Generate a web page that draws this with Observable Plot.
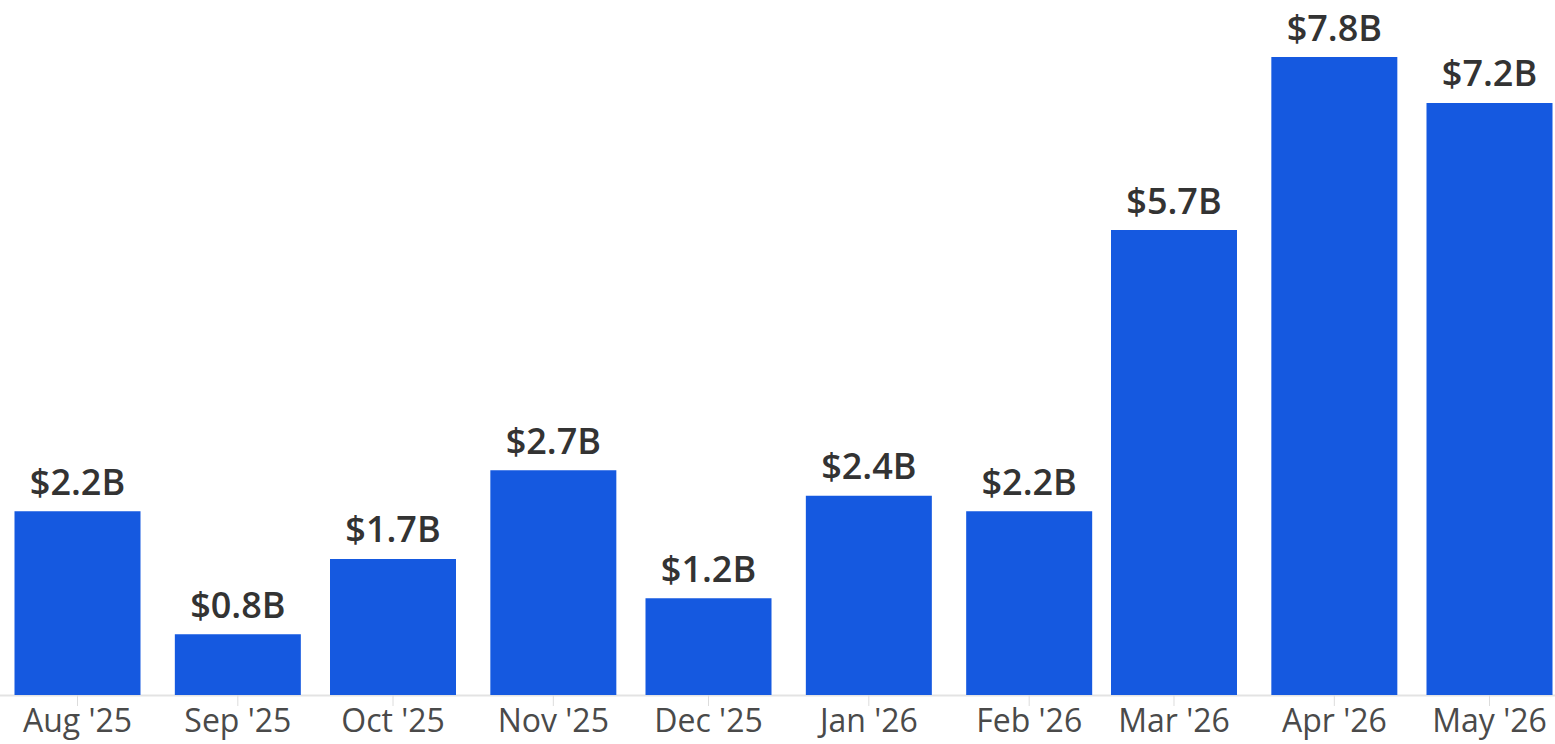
<!DOCTYPE html>
<html>
<head>
<meta charset="utf-8">
<script src="https://cdn.jsdelivr.net/npm/d3@7"></script>
<script src="https://cdn.jsdelivr.net/npm/@observablehq/plot@0.6"></script>
<style>
  html, body { margin: 0; padding: 0; background: #fff; }
  #chart svg { display: block; }
</style>
</head>
<body>
<div id="chart"></div>
<script>
const months = ["2025-08-01","2025-09-01","2025-10-01","2025-11-01","2025-12-01","2026-01-01","2026-02-01","2026-03-01","2026-04-01","2026-05-01"];
const values = [2.24, 0.74, 1.66, 2.74, 1.18, 2.43, 2.24, 5.67, 7.78, 7.22];
const labels = ["$2.2B","$0.8B","$1.7B","$2.7B","$1.2B","$2.4B","$2.2B","$5.7B","$7.8B","$7.2B"];

const data = months.map((m, i) => ({date: new Date(m + "T00:00:00Z"), value: values[i], label: labels[i]}));
const fmt = d3.utcFormat("%b '%y");

const chart = Plot.plot({
  width: 1555,
  height: 744,
  marginLeft: 77,
  marginRight: 66,
  marginTop: 39,
  marginBottom: 49,
  style: {fontFamily: "'Open Sans', sans-serif", background: "#fff"},
  x: {type: "utc", domain: [data[0].date, data[data.length - 1].date]},
  y: {domain: [0, 8], axis: null},
  marks: [
    Plot.ruleY([0], {stroke: "#e3e3e3", strokeWidth: 2, insetLeft: -77, insetRight: -66}),
    Plot.axisX({ticks: data.map(d => d.date), tickFormat: fmt, tickSize: 11, tickPadding: 3,
      stroke: "#dcdcdc", fill: "#4a4a4a", fontSize: 32, tickRotate: 0}),
    Plot.ruleX(data, {x: "date", y1: 0, y2: "value", stroke: "#1559E0", strokeWidth: 126}),
    Plot.text(data, {x: "date", y: "value", text: "label", dy: -17, fill: "#333",
      fontSize: 36, fontWeight: 600, lineAnchor: "bottom", textAnchor: "middle"})
  ]
});
document.getElementById("chart").appendChild(chart);
</script>
</body>
</html>
